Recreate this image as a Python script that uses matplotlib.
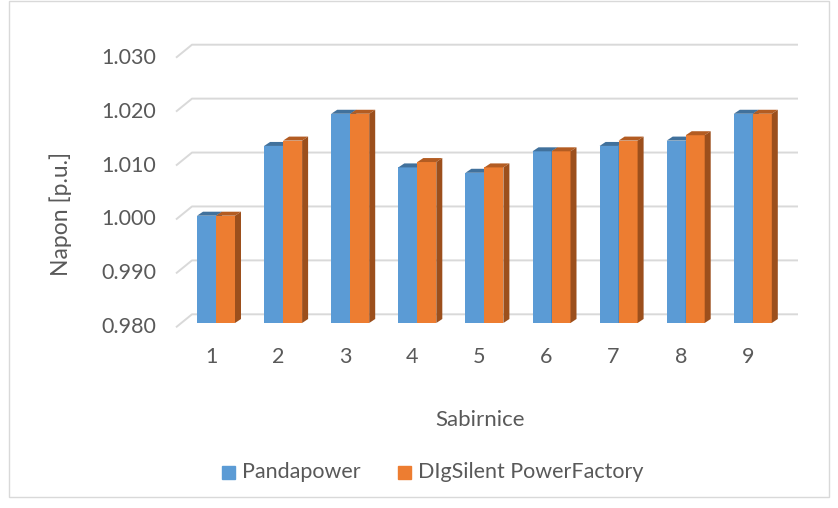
import matplotlib
matplotlib.use("Agg")
import matplotlib.pyplot as plt
from matplotlib.patches import Polygon, Rectangle

plt.rcParams.update({"font.family": ["Lato", "DejaVu Sans"]})

# data
categories = ["1", "2", "3", "4", "5", "6", "7", "8", "9"]
pandapower = [1.000, 1.013, 1.019, 1.009, 1.008, 1.012, 1.013, 1.014, 1.019]
digsilent = [1.000, 1.014, 1.019, 1.010, 1.009, 1.012, 1.014, 1.015, 1.019]
yticks = [0.980, 0.990, 1.000, 1.010, 1.020, 1.030]
series = ["Pandapower", "DIgSilent PowerFactory"]

BLUE, BLUE_TOP, BLUE_SIDE = "#5B9BD5", "#41719C", "#3F6E9A"
ORANGE, ORANGE_TOP, ORANGE_SIDE = "#ED7D31", "#B35C22", "#9C4F1C"
GRID = "#D9D9D9"
TXT = "#595959"
FS = 15.5

W, H = 838, 508
fig = plt.figure(figsize=(W / 100, H / 100), dpi=100)


def fbox(l, t, r, b):
    return [l / W, 1 - b / H, (r - l) / W, (b - t) / H]


# full-figure canvas in pixel coords for the wall, labels, legend
cv = fig.add_axes([0, 0, 1, 1])
cv.set_xlim(0, W)
cv.set_ylim(H, 0)
cv.axis("off")
cv.add_patch(Rectangle((9, 1), 820, 496, fill=False, edgecolor=GRID, lw=1))

# back wall gridlines (3D look: short diagonal on the left)
grid_px = (314.3 - 44.7) / 0.05
for v in yticks:
    yb = 314.3 - (v - yticks[0]) * grid_px
    cv.plot([176, 192, 798], [yb + 13, yb, yb], color=GRID, lw=1.4, solid_capstyle="butt")
    cv.text(156, yb + 13, f"{v:.3f}", ha="right", va="center", fontsize=FS, color=TXT)

# bar geometry (pixels)
step = 67.1
x_first = 216

# category labels on the front edge of the floor
for i, c in enumerate(categories):
    cv.text(x_first - 5 + i * step, 357, c, ha="center", va="center", fontsize=FS, color=TXT)

cv.text(61, 214, "Napon [p.u.]", rotation=90, ha="center", va="center", fontsize=16.5, color=TXT)
cv.text(480, 420, "Sabirnice", ha="center", va="center", fontsize=16, color=TXT)

# legend
cv.add_patch(Rectangle((222, 466), 13, 13, color=BLUE))
cv.text(242, 472.5, series[0], ha="left", va="center", fontsize=FS, color=TXT)
cv.add_patch(Rectangle((398, 466), 13, 13, color=ORANGE))
cv.text(418, 472.5, series[1], ha="left", va="center", fontsize=FS, color=TXT)

# bars
ymin, ymax = 0.98, 1.03
ypx = 5365
ax = fig.add_axes(fbox(x_first - 0.5 * step, 323 - (ymax - ymin) * ypx, x_first + 8.5 * step, 323))
ax.set_xlim(0.5, 9.5)
ax.set_ylim(ymin, ymax)
ax.axis("off")

w = 19 / step
dx = 6 / step
dy = 4 / ypx


def bar3d(x0, v, front, top, side):
    ax.bar(x0, v - ymin, bottom=ymin, width=w, align="edge", color=front, lw=0, zorder=2)
    ax.add_patch(Polygon([(x0, v), (x0 + w, v), (x0 + w + dx, v + dy), (x0 + dx, v + dy)],
                         closed=True, color=top, lw=0, zorder=2, clip_on=False))
    ax.add_patch(Polygon([(x0 + w, ymin), (x0 + w + dx, ymin + dy), (x0 + w + dx, v + dy), (x0 + w, v)],
                         closed=True, color=side, lw=0, zorder=2, clip_on=False))


for i in range(len(categories)):
    xc = i + 1
    bar3d(xc - w, pandapower[i], BLUE, BLUE_TOP, BLUE_SIDE)
    bar3d(xc, digsilent[i], ORANGE, ORANGE_TOP, ORANGE_SIDE)

fig.savefig("out.png", dpi=100)
